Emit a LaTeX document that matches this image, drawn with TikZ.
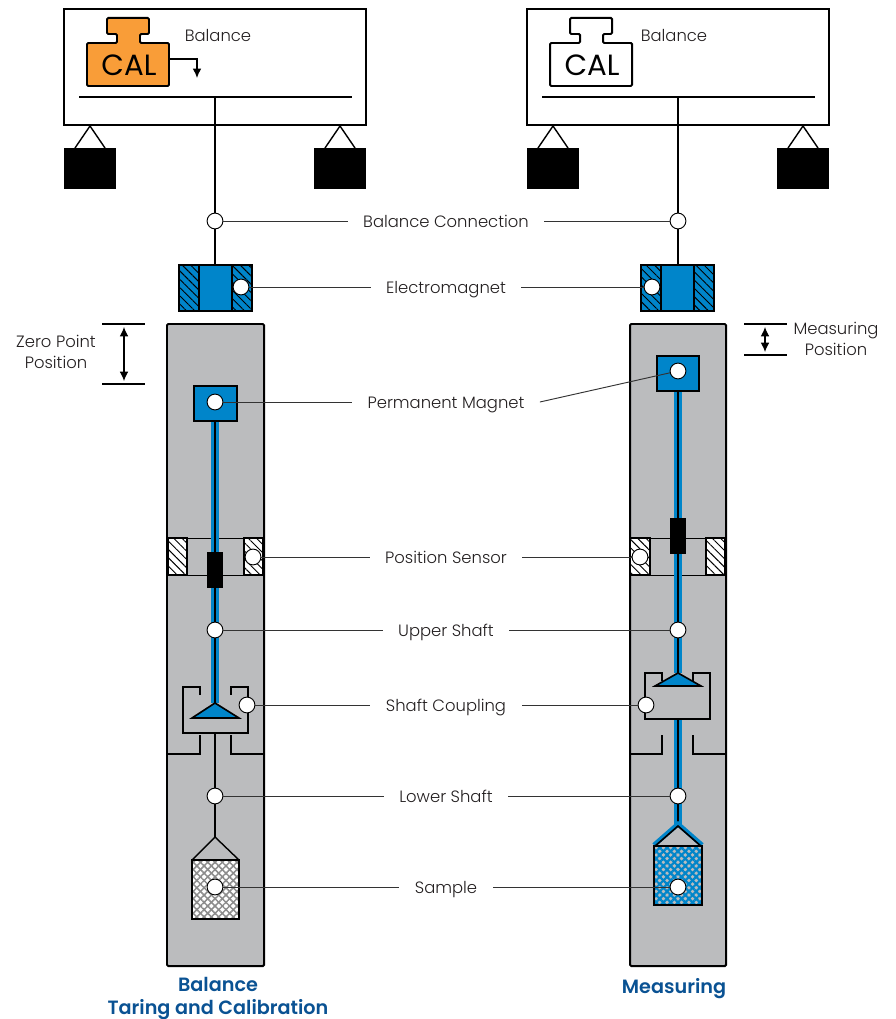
\documentclass[tikz,border=0pt]{standalone}
\usepackage{fontspec}
\setmainfont{Poppins}[UprightFont=* Light,BoldFont=* SemiBold]
\newfontfamily\calfont{Poppins}
\usetikzlibrary{patterns.meta,arrows.meta}
\definecolor{tubegray}{HTML}{BBBCBE}
\definecolor{magblue}{HTML}{0085CA}
\definecolor{calorange}{HTML}{F99D38}
\definecolor{titleblue}{HTML}{0A5293}
\definecolor{inkgray}{HTML}{231F20}
\tikzset{
  dot/.style={circle,draw=black,fill=white,line width=0.8pt,minimum size=13.5pt,inner sep=0pt},
  lbltwo/.style={text=inkgray,font=\fontsize{14}{18}\selectfont,inner sep=0pt,align=center},
  lbl/.style={text=inkgray,font=\fontsize{14}{18}\selectfont,inner xsep=13pt,inner ysep=0pt,text height=11pt,text depth=0pt},
  ttl/.style={text=titleblue,font=\fontsize{16.4}{19}\selectfont\bfseries,align=center,inner sep=0pt},
  calname/.style={font=\calfont\fontsize{25}{27}\selectfont,text=black,inner sep=0pt},
  leader/.style={draw=black!80,line width=0.8pt},
  thick line/.style={draw=black,line width=1.7pt},
  sensorbox/.style={draw=black,line width=2.1pt,fill=white},
  rodblue/.style={draw=magblue,line width=6pt},
  rodblack/.style={draw=black,line width=2pt},
  stop/.style={draw=black,line width=1.4pt},
  tube/.style={draw=black,fill=tubegray,line width=1.7pt,rounded corners=1pt},
  hatching/.style={pattern={Lines[angle=-45,distance=5pt,line width=0.8pt]}},
  meshline/.style 2 args={pattern={Lines[angle=45,distance=4.4pt,line width=#2]},pattern color=#1},
  meshback/.style 2 args={pattern={Lines[angle=-45,distance=4.4pt,line width=#2]},pattern color=#1},
  dimarrow/.style={draw=black,line width=1pt,{Latex[length=8pt,width=7.5pt]}-{Latex[length=8pt,width=7.5pt]}}
}
\begin{document}
\begin{tikzpicture}[x=0.03cm,y=0.03cm]
\useasboundingbox (0,0) rectangle (895,-1019);
% balance housings
\draw [thick line] (64,-9) rectangle (366,-125);
\draw [thick line] (527,-9) rectangle (829,-125);
\draw [thick line] (79,-97) -- (352,-97);
\draw [thick line] (542,-97) -- (815,-97);
\fill [black] (64,-148) rectangle (116,-189);
\fill [black] (314,-148) rectangle (366,-189);
\fill [black] (527,-148) rectangle (579,-189);
\fill [black] (777,-148) rectangle (829,-189);
\draw [thick line,line width=1.2pt] (75,-148) -- (90,-126) -- (105,-148);
\draw [thick line,line width=1.2pt] (325,-148) -- (340,-126) -- (355,-148);
\draw [thick line,line width=1.2pt] (538,-148) -- (553,-126) -- (568,-148);
\draw [thick line,line width=1.2pt] (788,-148) -- (803,-126) -- (818,-148);
% cal weights
\draw [thick line,fill=calorange,rounded corners=1pt] (87,-43) -- (117,-43) -- (117,-34) -- (107,-34) -- (107,-18) -- (149,-18) -- (149,-34) -- (140,-34) -- (140,-43) -- (169,-43) -- (169,-86) -- (87,-86) -- cycle;
\draw [thick line,fill=white,rounded corners=1pt] (550,-43) -- (580,-43) -- (580,-34) -- (570,-34) -- (570,-18) -- (612,-18) -- (612,-34) -- (603,-34) -- (603,-43) -- (632,-43) -- (632,-86) -- (550,-86) -- cycle;
\node (calA) at (129,-65) [calname] {CAL};
\node (calB) at (592,-65) [calname] {CAL};
\node (balA) at (218,-35) [lbl,inner xsep=0pt] {Balance};
\node (balB) at (674,-35) [lbl,inner xsep=0pt] {Balance};
\coordinate (calOut) at (169,-59);
\coordinate (calTip) at (197,-78);
\draw [draw=black,line width=1.2pt,-{Latex[length=8pt,width=7.5pt]}] (calOut) -| (calTip);
% tubes
\draw [tube] (167,-324) rectangle (264,-966);
\draw [tube] (630,-324) rectangle (726,-966);
% position sensors
\draw [draw=black,line width=0.8pt] (167,-538) rectangle (264,-575);
\draw [draw=black,line width=0.8pt] (630,-538) rectangle (726,-575);
\draw [sensorbox] (168,-538) rectangle (187,-575);
\fill [hatching] (168,-538) rectangle (187,-575);
\draw [sensorbox] (244,-538) rectangle (263,-575);
\fill [hatching] (244,-538) rectangle (263,-575);
\draw [sensorbox] (630,-538) rectangle (650,-575);
\fill [hatching] (630,-538) rectangle (650,-575);
\draw [sensorbox] (706,-538) rectangle (725,-575);
\fill [hatching] (706,-538) rectangle (725,-575);
% shafts
\coordinate (beamA) at (215,-97);
\coordinate (beamB) at (678,-97);
\coordinate (emA) at (215,-265);
\coordinate (emB) at (678,-265);
\coordinate (magA) at (215,-421);
\coordinate (magB) at (678,-391);
\coordinate (apexA) at (215,-703);
\coordinate (apexB) at (678,-673);
\coordinate (cupA) at (215,-733);
\coordinate (cupB) at (678,-719);
\coordinate (hookA) at (215,-837);
\coordinate (hookB) at (678,-824);
\draw [thick line] (beamA) -- (emA);
\draw [thick line] (beamB) -- (emB);
\draw [rodblue] (magA) -- (apexA);
\draw [rodblack] (magA) -- (apexA);
\draw [rodblue] (magB) -- (apexB);
\draw [rodblack] (magB) -- (apexB);
\draw [rodblack] (cupA) -- (hookA);
\draw [rodblue] (cupB) -- (hookB);
\draw [rodblack] (cupB) -- (hookB);
% electromagnets
\draw [thick line,fill=magblue] (179,-265) rectangle (252,-311);
\fill [hatching] (179,-265) rectangle (199,-311);
\fill [hatching] (232,-265) rectangle (252,-311);
\draw [thick line] (199,-265) -- (199,-311);
\draw [thick line] (232,-265) -- (232,-311);
\draw [thick line,fill=magblue] (641,-265) rectangle (714,-311);
\fill [hatching] (641,-265) rectangle (661,-311);
\fill [hatching] (694,-265) rectangle (714,-311);
\draw [thick line] (661,-265) -- (661,-311);
\draw [thick line] (694,-265) -- (694,-311);
% permanent magnets and sensor cores
\draw [thick line,fill=magblue] (194,-386) rectangle (237,-421);
\draw [thick line,fill=magblue] (657,-356) rectangle (699,-391);
\fill [black] (207,-552) rectangle (223,-588);
\fill [black] (670,-518) rectangle (686,-554);
% couplings
\draw [stop] (200,-695) -- (200,-687) -- (183,-687) -- (183,-733) -- (248,-733) -- (248,-687) -- (231,-687) -- (231,-695);
\draw [stop] (662,-681) -- (662,-673) -- (645,-673) -- (645,-719) -- (710,-719) -- (710,-673) -- (693,-673) -- (693,-681);
\draw [thick line,line width=1.4pt,fill=magblue] (apexA) -- (192,-718) -- (239,-718) -- cycle;
\draw [thick line,line width=1.4pt,fill=magblue] (apexB) -- (655,-686) -- (701,-686) -- cycle;
\draw [stop] (200,-735) -- (200,-754) -- (167,-754);
\draw [stop] (231,-735) -- (231,-754) -- (264,-754);
\draw [stop] (662,-735) -- (662,-754) -- (630,-754);
\draw [stop] (693,-735) -- (693,-754) -- (726,-754);
% samples
\draw [thick line,line width=1.2pt] (192,-860) -- (hookA) -- (239,-860);
\draw [draw=magblue,line width=4pt] (654,-845) -- (hookB) -- (702,-845);
\draw [thick line,line width=1.4pt] (654,-847) -- (678,-826) -- (702,-847);
\fill [white] (192,-860) rectangle (239,-919);
\fill [meshline={black!45}{1.3pt}] (192,-860) rectangle (239,-919);
\fill [meshback={black!45}{1.3pt}] (192,-860) rectangle (239,-919);
\draw [thick line] (192,-860) rectangle (239,-919);
\fill [meshline={magblue}{1.9pt}] (654,-846) rectangle (702,-905);
\fill [meshback={magblue}{1.9pt}] (654,-846) rectangle (702,-905);
\draw [thick line] (654,-846) rectangle (702,-905);
% position marks
\draw [thick line] (102,-324) -- (145,-324);
\draw [thick line] (102,-384) -- (145,-384);
\draw [thick line] (744,-324) -- (787,-324);
\draw [thick line] (744,-355) -- (787,-355);
\coordinate (zeroTop) at (124,-327);
\coordinate (zeroBot) at (124,-381);
\coordinate (measTop) at (765,-327);
\coordinate (measBot) at (765,-352);
\draw [dimarrow] (zeroTop) -- (zeroBot);
\draw [dimarrow] (measTop) -- (measBot);
\node (zeroLbl) at (56,-352) [lbltwo] {Zero Point\\Position};
\node (measLbl) at (836,-339) [lbltwo] {Measuring\\Position};
% dots
\node (connA) at (215,-221) [dot] {};
\node (connB) at (678,-221) [dot] {};
\node (elecA) at (241,-287) [dot] {};
\node (elecB) at (652,-287) [dot] {};
\node (permA) at (215,-402) [dot] {};
\node (permB) at (678,-371) [dot] {};
\node (sensA) at (253,-557) [dot] {};
\node (sensB) at (640,-557) [dot] {};
\node (upA) at (215,-630) [dot] {};
\node (upB) at (678,-630) [dot] {};
\node (coupA) at (247,-705) [dot] {};
\node (coupB) at (646,-705) [dot] {};
\node (lowA) at (215,-796) [dot] {};
\node (lowB) at (678,-796) [dot] {};
\node (sampA) at (215,-887) [dot] {};
\node (sampB) at (678,-887) [dot] {};
% labels
\node (connLbl) at (446,-221) [lbl] {Balance Connection};
\node (elecLbl) at (446,-287) [lbl] {Electromagnet};
\node (permLbl) at (446,-402) [lbl] {Permanent Magnet};
\node (sensLbl) at (446,-557) [lbl] {Position Sensor};
\node (upLbl) at (446,-630) [lbl] {Upper Shaft};
\node (coupLbl) at (446,-705) [lbl] {Shaft Coupling};
\node (lowLbl) at (446,-796) [lbl] {Lower Shaft};
\node (sampLbl) at (446,-887) [lbl] {Sample};
\draw [leader] (connA) -- (connLbl);
\draw [leader] (connB) -- (connLbl);
\draw [leader] (elecA) -- (elecLbl);
\draw [leader] (elecB) -- (elecLbl);
\draw [leader] (permA) -- (permLbl);
\draw [leader] (permB) -- (permLbl.east);
\draw [leader] (sensA) -- (sensLbl);
\draw [leader] (sensB) -- (sensLbl);
\draw [leader] (upA) -- (upLbl);
\draw [leader] (upB) -- (upLbl);
\draw [leader] (coupA) -- (coupLbl);
\draw [leader] (coupB) -- (coupLbl);
\draw [leader] (lowA) -- (lowLbl);
\draw [leader] (lowB) -- (lowLbl);
\draw [leader] (sampA) -- (sampLbl);
\draw [leader] (sampB) -- (sampLbl);
% titles
\node (ttlA) at (218,-998.5) [ttl] {Balance\\Taring and Calibration};
\node (ttlB) at (674,-989) [ttl] {Measuring};
\end{tikzpicture}
\end{document}
